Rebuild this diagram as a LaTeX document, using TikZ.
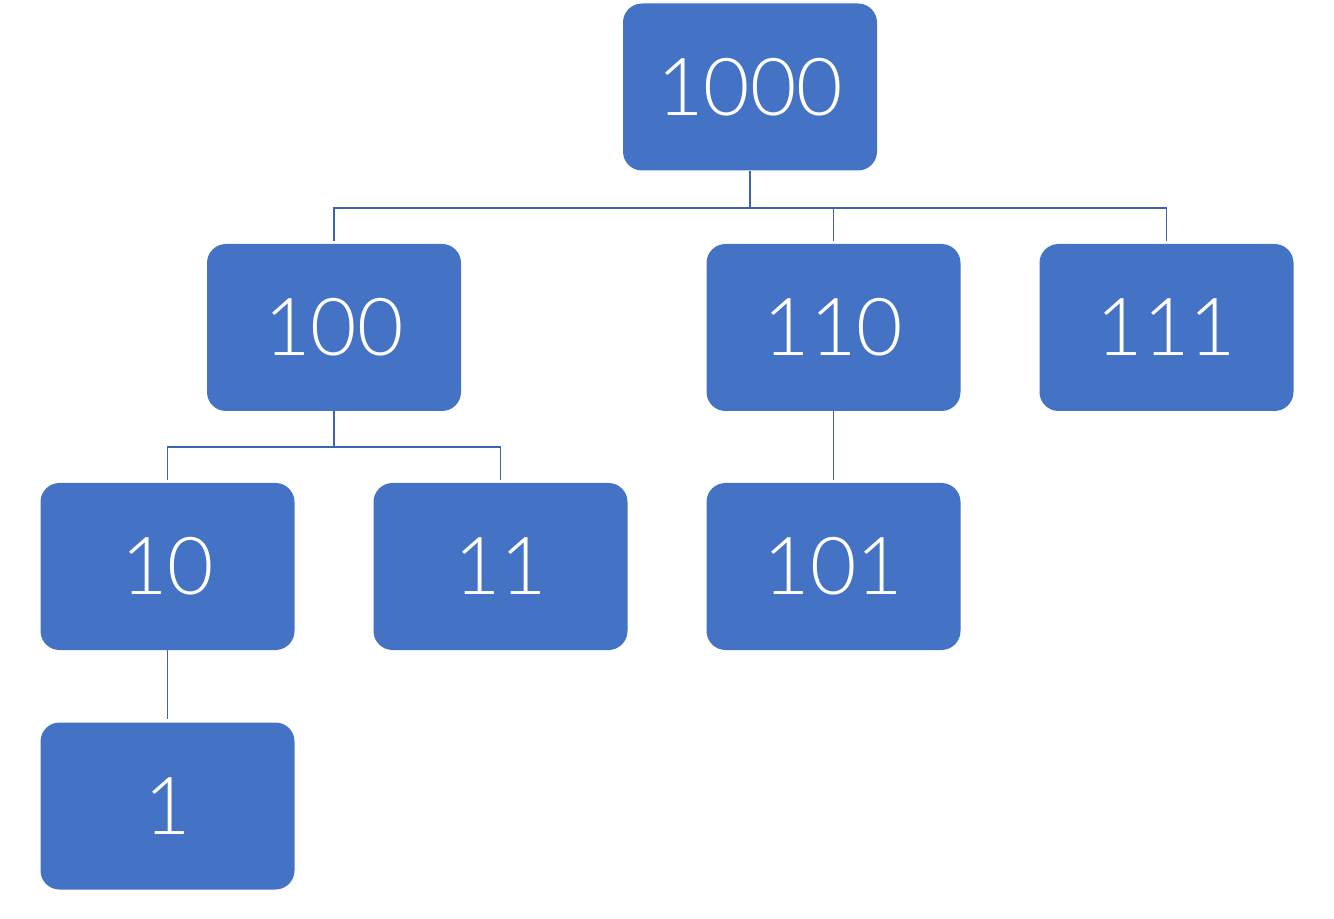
\documentclass[tikz,border=0pt]{standalone}
\usepackage{fontspec}
\newfontfamily\digitfont{Lato}[UprightFont=* Light]
\definecolor{boxblue}{HTML}{4472C4}
\definecolor{linkblue}{HTML}{3D65AE}
\begin{document}
\begin{tikzpicture}[x=0.5pt,y=0.5pt,
  treebox/.style={fill=boxblue, rounded corners=9.5pt, minimum width=127pt,
    minimum height=83.5pt, inner sep=0pt, text=white,
    font=\digitfont\fontsize{40}{40}\selectfont},
  bus/.style={draw=linkblue, line width=0.8pt},
  link/.style={bus, shorten >=1.5pt}]
\useasboundingbox (0,0) rectangle (1334,-919);
% tree nodes
\node[treebox] (r)    at (750,-87)      {1000};
\node[treebox] (n100) at (334,-327.5)   {100};
\node[treebox] (n110) at (833.5,-327.5) {110};
\node[treebox] (n111) at (1166.5,-327.5) {111};
\node[treebox] (n10)  at (167.5,-566.5) {10};
\node[treebox] (n11)  at (500.5,-566.5) {11};
\node[treebox] (n101) at (833.5,-566.5) {101};
\node[treebox] (n1)   at (167.5,-806)   {1};
% bus lines between levels
\coordinate (b1) at (750,-208);
\coordinate (b2) at (334,-447);
\draw[bus] (r.south) -- (b1);
\draw[link] (b1) -| (n100.north);
\draw[link] (b1) -| (n110.north);
\draw[link] (b1) -| (n111.north);
\draw[bus] (n100.south) -- (b2);
\draw[link] (b2) -| (n10.north);
\draw[link] (b2) -| (n11.north);
\draw[link] (n110.south) -- (n101.north);
\draw[link] (n10.south) -- (n1.north);
\end{tikzpicture}
\end{document}
